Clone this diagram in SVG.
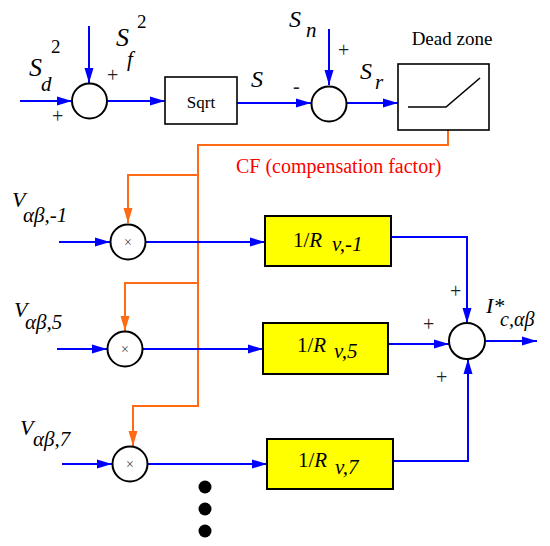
<svg xmlns="http://www.w3.org/2000/svg" width="550" height="546" viewBox="0 0 550 546" font-family="Liberation Serif">
<defs>
<marker id="ab" markerUnits="userSpaceOnUse" markerWidth="16" markerHeight="10" refX="15" refY="5" orient="auto"><path d="M0,0.5 L15,5 L0,9.5 Z" fill="#0000ff" stroke="none"/></marker>
<marker id="ao" markerUnits="userSpaceOnUse" markerWidth="16" markerHeight="10" refX="15" refY="5" orient="auto"><path d="M0,0.5 L15,5 L0,9.5 Z" fill="#ff6a14" stroke="none"/></marker>
</defs>
<rect width="550" height="546" fill="#fff"/>
<g id="connectors" fill="none" stroke-width="2">
<g stroke="#ff6a14" marker-end="url(#ao)">
<path d="M448,130 V145 H198 V406 H133 V446"/>
<path d="M198,175 H128 V223"/>
<path d="M198,283 H125 V331"/>
</g>
<g stroke="#0000ff" marker-end="url(#ab)">
<path d="M20,101 H72"/>
<path d="M89,26 V83"/>
<path d="M107,101 H165"/>
<path d="M237,103 H311"/>
<path d="M329,29 V85"/>
<path d="M347,103 H398"/>
<path d="M59,242 H110"/>
<path d="M57,349 H107"/>
<path d="M62,464 H112"/>
<path d="M146,242 H265"/>
<path d="M143,349 H263"/>
<path d="M148,464 H267"/>
<path d="M391,237 H467 V323"/>
<path d="M388,344 H449"/>
<path d="M393,461 H468 V359"/>
<path d="M485,341 H537"/>
</g>
</g>
<g id="sum1">
<circle cx="89.5" cy="101" r="17.5" fill="#fff" stroke="#000" stroke-width="2"/>
<text style="font-family:'Liberation Serif',serif;font-style:italic" x="29" y="76" font-size="26">S</text>
<text style="font-family:'Liberation Serif',serif;font-style:italic" x="41" y="91" font-size="21">d</text>
<text style="font-family:'Liberation Serif',serif" x="51" y="53" font-size="19">2</text>
<text style="font-family:'Liberation Serif',serif" x="52" y="123" font-size="20" fill="#222">+</text>
<text style="font-family:'Liberation Serif',serif;font-style:italic" x="116" y="46" font-size="26">S</text>
<text style="font-family:'Liberation Serif',serif;font-style:italic" x="127" y="66" font-size="21">f</text>
<text style="font-family:'Liberation Serif',serif" x="137" y="28" font-size="19">2</text>
<text style="font-family:'Liberation Serif',serif" x="107" y="82" font-size="20" fill="#222">+</text>
</g>
<g id="sqrt">
<rect x="165" y="77" width="72" height="47" fill="#fff" stroke="#000" stroke-width="1.6"/>
<text style="font-family:'Liberation Serif',serif" x="201" y="108" font-size="17" text-anchor="middle">Sqrt</text>
<text style="font-family:'Liberation Serif',serif;font-style:italic" x="251" y="87" font-size="24">S</text>
</g>
<g id="sum2">
<circle cx="329" cy="104" r="17.5" fill="#fff" stroke="#000" stroke-width="2"/>
<text style="font-family:'Liberation Serif',serif;font-style:italic" x="289" y="27" font-size="24">S</text>
<text style="font-family:'Liberation Serif',serif;font-style:italic" x="306" y="37" font-size="21">n</text>
<text style="font-family:'Liberation Serif',serif" x="338" y="57" font-size="20" fill="#222">+</text>
<text style="font-family:'Liberation Serif',serif" x="293" y="93" font-size="20" fill="#222">-</text>
<text style="font-family:'Liberation Serif',serif;font-style:italic" x="360" y="79" font-size="24">S</text>
<text style="font-family:'Liberation Serif',serif;font-style:italic" x="375" y="89" font-size="21">r</text>
</g>
<g id="deadzone">
<rect x="398" y="64" width="91" height="66" fill="#fff" stroke="#000" stroke-width="1.6"/>
<path d="M408,107 H446 L480,78" fill="none" stroke="#000" stroke-width="1.6"/>
<text style="font-family:'Liberation Serif',serif" x="452" y="45" font-size="19" text-anchor="middle">Dead zone</text>
</g>
<text id="cf" style="font-family:'Liberation Serif',serif" x="236" y="173" font-size="20" fill="#ff0000">CF (compensation factor)</text>
<g id="mult1">
<circle cx="128" cy="242" r="17.5" fill="#fff" stroke="#000" stroke-width="2"/>
<text style="font-family:'Liberation Serif',serif" x="128" y="247" font-size="14" text-anchor="middle" fill="#444">×</text>
<text style="font-family:'Liberation Serif',serif;font-style:italic" x="12" y="207" font-size="22">V</text>
<text style="font-family:'Liberation Serif',serif;font-style:italic" x="23" y="222" font-size="21">αβ,-1</text>
</g>
<g id="mult2">
<circle cx="125" cy="349" r="17.5" fill="#fff" stroke="#000" stroke-width="2"/>
<text style="font-family:'Liberation Serif',serif" x="125" y="354" font-size="14" text-anchor="middle" fill="#444">×</text>
<text style="font-family:'Liberation Serif',serif;font-style:italic" x="14" y="317" font-size="22">V</text>
<text style="font-family:'Liberation Serif',serif;font-style:italic" x="25" y="329" font-size="21">αβ,5</text>
</g>
<g id="mult3">
<circle cx="130" cy="464" r="17.5" fill="#fff" stroke="#000" stroke-width="2"/>
<text style="font-family:'Liberation Serif',serif" x="130" y="469" font-size="14" text-anchor="middle" fill="#444">×</text>
<text style="font-family:'Liberation Serif',serif;font-style:italic" x="20" y="435" font-size="22">V</text>
<text style="font-family:'Liberation Serif',serif;font-style:italic" x="33" y="446" font-size="21">αβ,7</text>
</g>
<g id="gain1">
<rect x="265" y="216" width="126" height="50" fill="#ffff00" stroke="#000" stroke-width="2"/>
<text style="font-family:'Liberation Serif',serif" x="293" y="247" font-size="21">1/<tspan font-style="italic">R</tspan></text>
<text style="font-family:'Liberation Serif',serif;font-style:italic" x="332" y="251" font-size="21">v,-1</text>
</g>
<g id="gain2">
<rect x="263" y="323" width="125" height="51" fill="#ffff00" stroke="#000" stroke-width="2"/>
<text style="font-family:'Liberation Serif',serif" x="297" y="352" font-size="21">1/<tspan font-style="italic">R</tspan></text>
<text style="font-family:'Liberation Serif',serif;font-style:italic" x="334" y="358" font-size="21">v,5</text>
</g>
<g id="gain3">
<rect x="267" y="439" width="126" height="50" fill="#ffff00" stroke="#000" stroke-width="2"/>
<text style="font-family:'Liberation Serif',serif" x="298" y="467" font-size="21">1/<tspan font-style="italic">R</tspan></text>
<text style="font-family:'Liberation Serif',serif;font-style:italic" x="335" y="474" font-size="21">v,7</text>
</g>
<g id="sum3">
<circle cx="467" cy="341" r="18" fill="#fff" stroke="#000" stroke-width="2"/>
<text style="font-family:'Liberation Serif',serif" x="450" y="298" font-size="20" fill="#222">+</text>
<text style="font-family:'Liberation Serif',serif" x="423" y="331" font-size="20" fill="#222">+</text>
<text style="font-family:'Liberation Serif',serif" x="436" y="384" font-size="20" fill="#222">+</text>
<text style="font-family:'Liberation Serif',serif;font-style:italic" x="486" y="313" font-size="22">I*</text>
<text style="font-family:'Liberation Serif',serif;font-style:italic" x="500" y="326" font-size="20">c,αβ</text>
</g>
<g id="dots" fill="#000">
<circle cx="205" cy="487" r="6.5"/>
<circle cx="205" cy="509" r="6.5"/>
<circle cx="205" cy="531" r="6.5"/>
</g>
</svg>
